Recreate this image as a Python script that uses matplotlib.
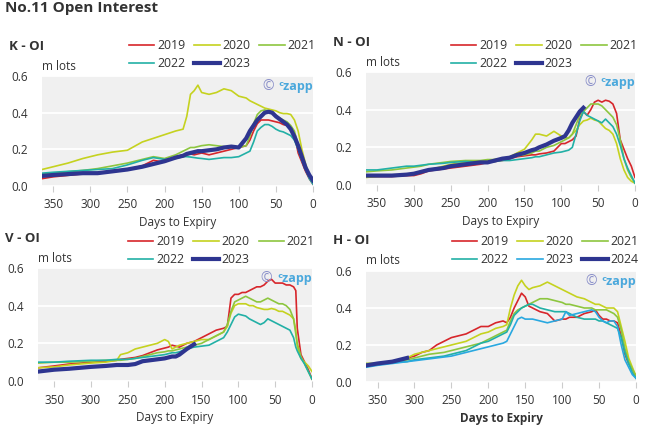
import numpy as np
import matplotlib
matplotlib.use("Agg")
import matplotlib.pyplot as plt

plt.rcParams['font.family'] = ['Open Sans', 'DejaVu Sans']

nan = np.nan

# ---- K contract ----
K_days = [365, 350, 330, 310, 290, 270, 250, 230, 215, 200,
          185, 175, 170, 165, 160, 155, 150, 140, 130, 120,
          110, 100, 90, 85, 80, 75, 70, 65, 60, 55,
          50, 45, 40, 35, 30, 25, 20, 15, 10, 5, 0]
K_2019 = [0.04, 0.05, 0.058, 0.066, 0.072, 0.08, 0.09, 0.11, 0.14, 0.13,
          0.16, 0.17, 0.17, 0.175, 0.17, 0.175, 0.18, 0.17, 0.18, 0.19,
          0.20, 0.21, 0.22, 0.25, 0.30, 0.34, 0.36, 0.36, 0.36, 0.355,
          0.35, 0.345, 0.335, 0.33, 0.31, 0.28, 0.18, 0.13, 0.08, 0.04, 0.01]
K_2020 = [0.09, 0.105, 0.125, 0.15, 0.17, 0.185, 0.195, 0.24, 0.26, 0.28,
          0.30, 0.31, 0.38, 0.50, 0.52, 0.55, 0.51, 0.50, 0.51, 0.53,
          0.52, 0.49, 0.48, 0.465, 0.455, 0.445, 0.435, 0.425, 0.42, 0.415,
          0.41, 0.40, 0.395, 0.395, 0.39, 0.36, 0.30, 0.20, 0.12, 0.06, 0.02]
K_2021 = [0.065, 0.07, 0.078, 0.085, 0.095, 0.11, 0.125, 0.145, 0.16, 0.15,
          0.17, 0.19, 0.20, 0.21, 0.21, 0.215, 0.22, 0.225, 0.22, 0.215,
          0.21, 0.21, 0.22, 0.27, 0.34, 0.39, 0.41, 0.415, 0.41, 0.40,
          0.385, 0.37, 0.36, 0.35, 0.33, 0.30, 0.22, 0.15, 0.09, 0.05, 0.02]
K_2022 = [0.07, 0.075, 0.08, 0.085, 0.09, 0.095, 0.115, 0.14, 0.155, 0.145,
          0.15, 0.16, 0.16, 0.158, 0.155, 0.152, 0.15, 0.145, 0.15, 0.155,
          0.155, 0.16, 0.18, 0.19, 0.24, 0.30, 0.32, 0.335, 0.335, 0.325,
          0.31, 0.30, 0.295, 0.285, 0.275, 0.25, 0.20, 0.14, 0.09, 0.04, 0.01]
K_2023 = [0.055, 0.06, 0.065, 0.07, 0.07, 0.08, 0.09, 0.105, 0.12, 0.135,
          0.155, 0.165, 0.175, 0.18, 0.185, 0.19, 0.19, 0.195, 0.20, 0.21,
          0.215, 0.21, 0.26, 0.30, 0.33, 0.36, 0.38, 0.40, 0.405, 0.40,
          0.38, 0.365, 0.35, 0.335, 0.31, 0.27, 0.22, 0.16, 0.10, 0.06, 0.03]

# ---- N contract ----
N_days = [365, 350, 330, 310, 300, 290, 280, 260, 250, 230,
          210, 200, 190, 180, 170, 160, 150, 140, 135, 130,
          120, 110, 100, 95, 90, 85, 80, 75, 70, 65,
          60, 55, 50, 45, 40, 35, 30, 25, 20, 15, 10, 5, 0]
N_2019 = [0.045, 0.045, 0.045, 0.05, 0.05, 0.06, 0.075, 0.085, 0.09, 0.10,
          0.11, 0.12, 0.125, 0.13, 0.14, 0.15, 0.155, 0.16, 0.16, 0.165,
          0.17, 0.18, 0.22, 0.22, 0.23, 0.24, 0.26, 0.35, 0.39, 0.37,
          0.40, 0.44, 0.45, 0.44, 0.45, 0.445, 0.43, 0.38, 0.24, 0.19, 0.14, 0.10, 0.04]
N_2020 = [0.04, 0.045, 0.05, 0.055, 0.06, 0.07, 0.08, 0.10, 0.11, 0.12,
          0.125, 0.13, 0.135, 0.14, 0.15, 0.17, 0.19, 0.24, 0.27, 0.27,
          0.26, 0.285, 0.26, 0.25, 0.25, 0.27, 0.29, 0.32, 0.34, 0.345,
          0.355, 0.345, 0.34, 0.32, 0.30, 0.29, 0.27, 0.22, 0.14, 0.08, 0.04, 0.02, 0.01]
N_2021 = [0.07, 0.075, 0.08, 0.09, 0.095, 0.10, 0.11, 0.12, 0.125, 0.13,
          0.13, 0.135, 0.135, 0.14, 0.15, 0.155, 0.16, 0.17, 0.18, 0.18,
          0.20, 0.21, 0.23, 0.24, 0.25, 0.27, 0.32, 0.37, 0.39, 0.41,
          0.43, 0.43, 0.43, 0.42, 0.40, 0.38, 0.36, 0.32, 0.24, 0.14, 0.08, 0.04, 0.01]
N_2022 = [0.08, 0.08, 0.09, 0.10, 0.10, 0.105, 0.11, 0.115, 0.12, 0.125,
          0.12, 0.12, 0.125, 0.13, 0.13, 0.135, 0.14, 0.145, 0.15, 0.15,
          0.16, 0.17, 0.175, 0.18, 0.185, 0.20, 0.27, 0.34, 0.39, 0.37,
          0.36, 0.35, 0.34, 0.33, 0.35, 0.33, 0.31, 0.27, 0.21, 0.14, 0.09, 0.05, 0.01]
N_2023 = [0.05, 0.05, 0.05, 0.055, 0.06, 0.07, 0.08, 0.09, 0.10, 0.11,
          0.12, 0.12, 0.13, 0.14, 0.145, 0.16, 0.17, 0.185, 0.19, 0.20,
          0.215, 0.235, 0.25, 0.26, 0.29, 0.33, 0.36, 0.39, 0.41] + [nan] * 14

# ---- V contract ----
V_days = [372, 350, 330, 300, 280, 265, 260, 250, 240, 230,
          220, 210, 200, 195, 190, 185, 180, 170, 160, 150,
          140, 130, 120, 115, 110, 105, 100, 95, 90, 85,
          80, 75, 70, 65, 60, 55, 50, 45, 40, 35,
          30, 25, 22, 20, 15, 10, 5, 0]
V_2019 = [0.07, 0.08, 0.09, 0.10, 0.105, 0.11, 0.115, 0.12, 0.125, 0.135,
          0.15, 0.165, 0.175, 0.18, 0.19, 0.185, 0.18, 0.20, 0.21, 0.23,
          0.25, 0.27, 0.28, 0.29, 0.44, 0.46, 0.46, 0.47, 0.47, 0.48,
          0.49, 0.50, 0.50, 0.51, 0.53, 0.54, 0.52, 0.52, 0.52, 0.51,
          0.51, 0.50, 0.48, 0.28, 0.14, 0.10, 0.06, 0.01]
V_2020 = [0.07, 0.075, 0.085, 0.095, 0.10, 0.11, 0.14, 0.15, 0.17, 0.18,
          0.19, 0.20, 0.22, 0.21, 0.17, 0.18, 0.19, 0.20, 0.21, 0.22,
          0.22, 0.24, 0.26, 0.29, 0.36, 0.40, 0.41, 0.41, 0.41, 0.40,
          0.40, 0.39, 0.385, 0.38, 0.38, 0.385, 0.38, 0.37, 0.37, 0.36,
          0.35, 0.33, 0.27, 0.18, 0.12, 0.10, 0.08, 0.05]
V_2021 = [0.095, 0.10, 0.10, 0.105, 0.11, 0.11, 0.11, 0.115, 0.12, 0.13,
          0.14, 0.15, 0.155, 0.16, 0.16, 0.165, 0.17, 0.18, 0.19, 0.20,
          0.22, 0.24, 0.26, 0.30, 0.37, 0.42, 0.43, 0.44, 0.45, 0.44,
          0.43, 0.42, 0.42, 0.43, 0.44, 0.43, 0.42, 0.41, 0.41, 0.40,
          0.38, 0.33, 0.25, 0.20, 0.13, 0.09, 0.05, 0.01]
V_2022 = [0.10, 0.10, 0.105, 0.11, 0.11, 0.115, 0.115, 0.115, 0.12, 0.125,
          0.13, 0.135, 0.14, 0.145, 0.15, 0.15, 0.155, 0.17, 0.18, 0.185,
          0.19, 0.21, 0.23, 0.26, 0.30, 0.34, 0.355, 0.35, 0.345, 0.33,
          0.32, 0.31, 0.30, 0.31, 0.33, 0.32, 0.31, 0.30, 0.29, 0.28,
          0.27, 0.23, 0.18, 0.16, 0.12, 0.09, 0.05, 0.01]
V_2023 = [0.05, 0.06, 0.065, 0.075, 0.08, 0.085, 0.085, 0.085, 0.09, 0.105,
          0.11, 0.115, 0.12, 0.125, 0.13, 0.13, 0.14, 0.17, 0.195] + [nan] * 29

# ---- H contract ----
H_days = [365, 350, 330, 310, 300, 290, 280, 270, 260, 250,
          240, 230, 220, 210, 200, 190, 180, 175, 170, 165,
          160, 155, 150, 145, 140, 130, 120, 110, 100, 95,
          90, 80, 70, 60, 55, 50, 45, 40, 35, 30,
          25, 20, 15, 10, 5, 0]
H_2019 = [0.09, 0.10, 0.11, 0.13, 0.14, 0.16, 0.17, 0.20, 0.22, 0.24,
          0.25, 0.26, 0.28, 0.30, 0.30, 0.32, 0.33, 0.32, 0.35, 0.40,
          0.44, 0.48, 0.46, 0.41, 0.40, 0.38, 0.37, 0.33, 0.34, 0.34,
          0.35, 0.35, 0.37, 0.38, 0.39, 0.36, 0.34, 0.34, 0.33, 0.33,
          0.32, 0.25, 0.15, 0.10, 0.07, 0.03]
H_2020 = [0.10, 0.10, 0.11, 0.13, 0.15, 0.16, 0.17, 0.18, 0.19, 0.20,
          0.21, 0.22, 0.24, 0.26, 0.27, 0.29, 0.30, 0.31, 0.40, 0.47,
          0.52, 0.55, 0.52, 0.50, 0.51, 0.52, 0.54, 0.52, 0.50, 0.49,
          0.48, 0.46, 0.45, 0.43, 0.42, 0.42, 0.41, 0.40, 0.40, 0.40,
          0.38, 0.30, 0.22, 0.13, 0.08, 0.03]
H_2021 = [0.10, 0.10, 0.11, 0.12, 0.13, 0.14, 0.15, 0.155, 0.16, 0.17,
          0.18, 0.19, 0.20, 0.21, 0.23, 0.25, 0.27, 0.28, 0.33, 0.37,
          0.39, 0.40, 0.41, 0.42, 0.43, 0.45, 0.45, 0.44, 0.43, 0.42,
          0.42, 0.41, 0.40, 0.40, 0.39, 0.39, 0.39, 0.39, 0.38, 0.37,
          0.35, 0.28, 0.18, 0.11, 0.07, 0.03]
H_2022 = [0.09, 0.10, 0.105, 0.11, 0.12, 0.125, 0.13, 0.135, 0.14, 0.15,
          0.16, 0.17, 0.19, 0.21, 0.22, 0.24, 0.26, 0.27, 0.31, 0.36,
          0.38, 0.40, 0.41, 0.42, 0.42, 0.40, 0.39, 0.38, 0.38, 0.38,
          0.37, 0.35, 0.34, 0.34, 0.34, 0.33, 0.33, 0.32, 0.31, 0.30,
          0.29, 0.24, 0.16, 0.10, 0.05, 0.02]
H_2023 = [0.08, 0.09, 0.10, 0.11, 0.115, 0.12, 0.125, 0.13, 0.135, 0.14,
          0.15, 0.16, 0.17, 0.18, 0.19, 0.20, 0.21, 0.22, 0.26, 0.30,
          0.34, 0.35, 0.34, 0.34, 0.34, 0.33, 0.32, 0.33, 0.34, 0.38,
          0.36, 0.37, 0.38, 0.39, 0.38, 0.35, 0.33, 0.32, 0.33, 0.33,
          0.30, 0.20, 0.12, 0.08, 0.04, 0.02]
H_2024 = [0.09, 0.10, 0.11, 0.13] + [nan] * 42

RED, YEL, GRN, TEAL, NAVY, BLUE = "#d7262b", "#c5d21f", "#8dc63f", "#22b0a6", "#2e3590", "#29a8e0"

panels = [
    dict(name="K - OI", rect=[42, 76, 313, 186], xmax=365, days=K_days, leg_gap=13,
         series=[("2019", K_2019, RED, 1.2), ("2020", K_2020, YEL, 1.2), ("2021", K_2021, GRN, 1.2),
                 ("2022", K_2022, TEAL, 1.2), ("2023", K_2023, NAVY, 3.0)], bold_x=False),
    dict(name="N - OI", rect=[366, 72, 635, 185], xmax=365, days=N_days, leg_gap=9,
         series=[("2019", N_2019, RED, 1.2), ("2020", N_2020, YEL, 1.2), ("2021", N_2021, GRN, 1.2),
                 ("2022", N_2022, TEAL, 1.2), ("2023", N_2023, NAVY, 3.0)], bold_x=False),
    dict(name="V - OI", rect=[38, 268, 312, 381], xmax=372, days=V_days, leg_gap=9,
         series=[("2019", V_2019, RED, 1.2), ("2020", V_2020, YEL, 1.2), ("2021", V_2021, GRN, 1.2),
                 ("2022", V_2022, TEAL, 1.2), ("2023", V_2023, NAVY, 3.0)], bold_x=False),
    dict(name="H - OI", rect=[366, 271, 636, 382], xmax=365.6, days=H_days, leg_gap=12,
         series=[("2019", H_2019, RED, 1.2), ("2020", H_2020, YEL, 1.2), ("2021", H_2021, GRN, 1.2),
                 ("2022", H_2022, TEAL, 1.2), ("2023", H_2023, BLUE, 1.2), ("2024", H_2024, NAVY, 3.0)],
         bold_x=True),
]

W, H = 646, 428
fig = plt.figure(figsize=(W / 100, H / 100), dpi=100)
fig.text(5 / W, 1 - 1 / H, "No.11 Open Interest", fontsize=11, fontweight="bold",
         color="#333333", ha="left", va="top")

for p in panels:
    l, t, r, b = p["rect"]
    ax = fig.add_axes([l / W, 1 - b / H, (r - l) / W, (b - t) / H])
    ax.set_facecolor("#f0f0f0")
    for s in ax.spines.values():
        s.set_visible(False)
    handles = []
    for label, vals, col, lw in p["series"]:
        h, = ax.plot(p["days"], vals, color=col, lw=lw, label=label, solid_joinstyle="round")
        handles.append(h)
    ax.set_xlim(p["xmax"], 0)
    ax.set_ylim(0, 0.6)
    ax.set_xticks(range(0, 351, 50))
    ax.set_yticks([0.0, 0.2, 0.4, 0.6])
    ax.set_yticklabels(["0.0", "0.2", "0.4", "0.6"])
    ax.yaxis.grid(True, color="white", lw=1.3)
    ax.set_axisbelow(True)
    ax.tick_params(axis="x", length=4, color="#cccccc", labelsize=8.5, labelcolor="#333333", pad=5)
    ax.tick_params(axis="y", length=0, labelsize=8.5, labelcolor="#333333", pad=10)
    ax.set_xlabel("Days to Expiry", fontsize=8.5, color="#333333", labelpad=3,
                  fontweight="bold" if p["bold_x"] else "normal")
    # panel title and unit
    fig.text((l - 33) / W, 1 - (t - 30) / H, p["name"], fontsize=9.5, fontweight="bold",
             color="#333333", ha="left", va="center")
    fig.text(l / W, 1 - (t - 10) / H, "m lots", fontsize=8.5, color="#333333",
             ha="left", va="center")
    # watermark
    ax.text(0.855, 0.905, "\u00a9", transform=ax.transAxes, fontsize=10, color="#8a8fc9",
            ha="right", va="center")
    ax.text(0.872, 0.905, "\u1d9czapp", transform=ax.transAxes, fontsize=9, color="#4aa8dc",
            fontweight="bold", ha="left", va="center")
    # legend, row-major order
    n = len(handles)
    order = [0, 3, 1, 4, 2] if n == 5 else [0, 3, 1, 4, 2, 5]
    gap = (p["leg_gap"] - 7) / (b - t)
    ax.legend([handles[i] for i in order], [handles[i].get_label() for i in order],
              ncol=3, loc="lower right", bbox_to_anchor=(1.01, 1.0 + gap), frameon=False,
              fontsize=8.8, handlelength=2.1, handletextpad=0.2, columnspacing=0.75,
              labelspacing=0.4, borderpad=0.0, borderaxespad=0.0, labelcolor="#333333")

fig.savefig("out.png", dpi=100)
